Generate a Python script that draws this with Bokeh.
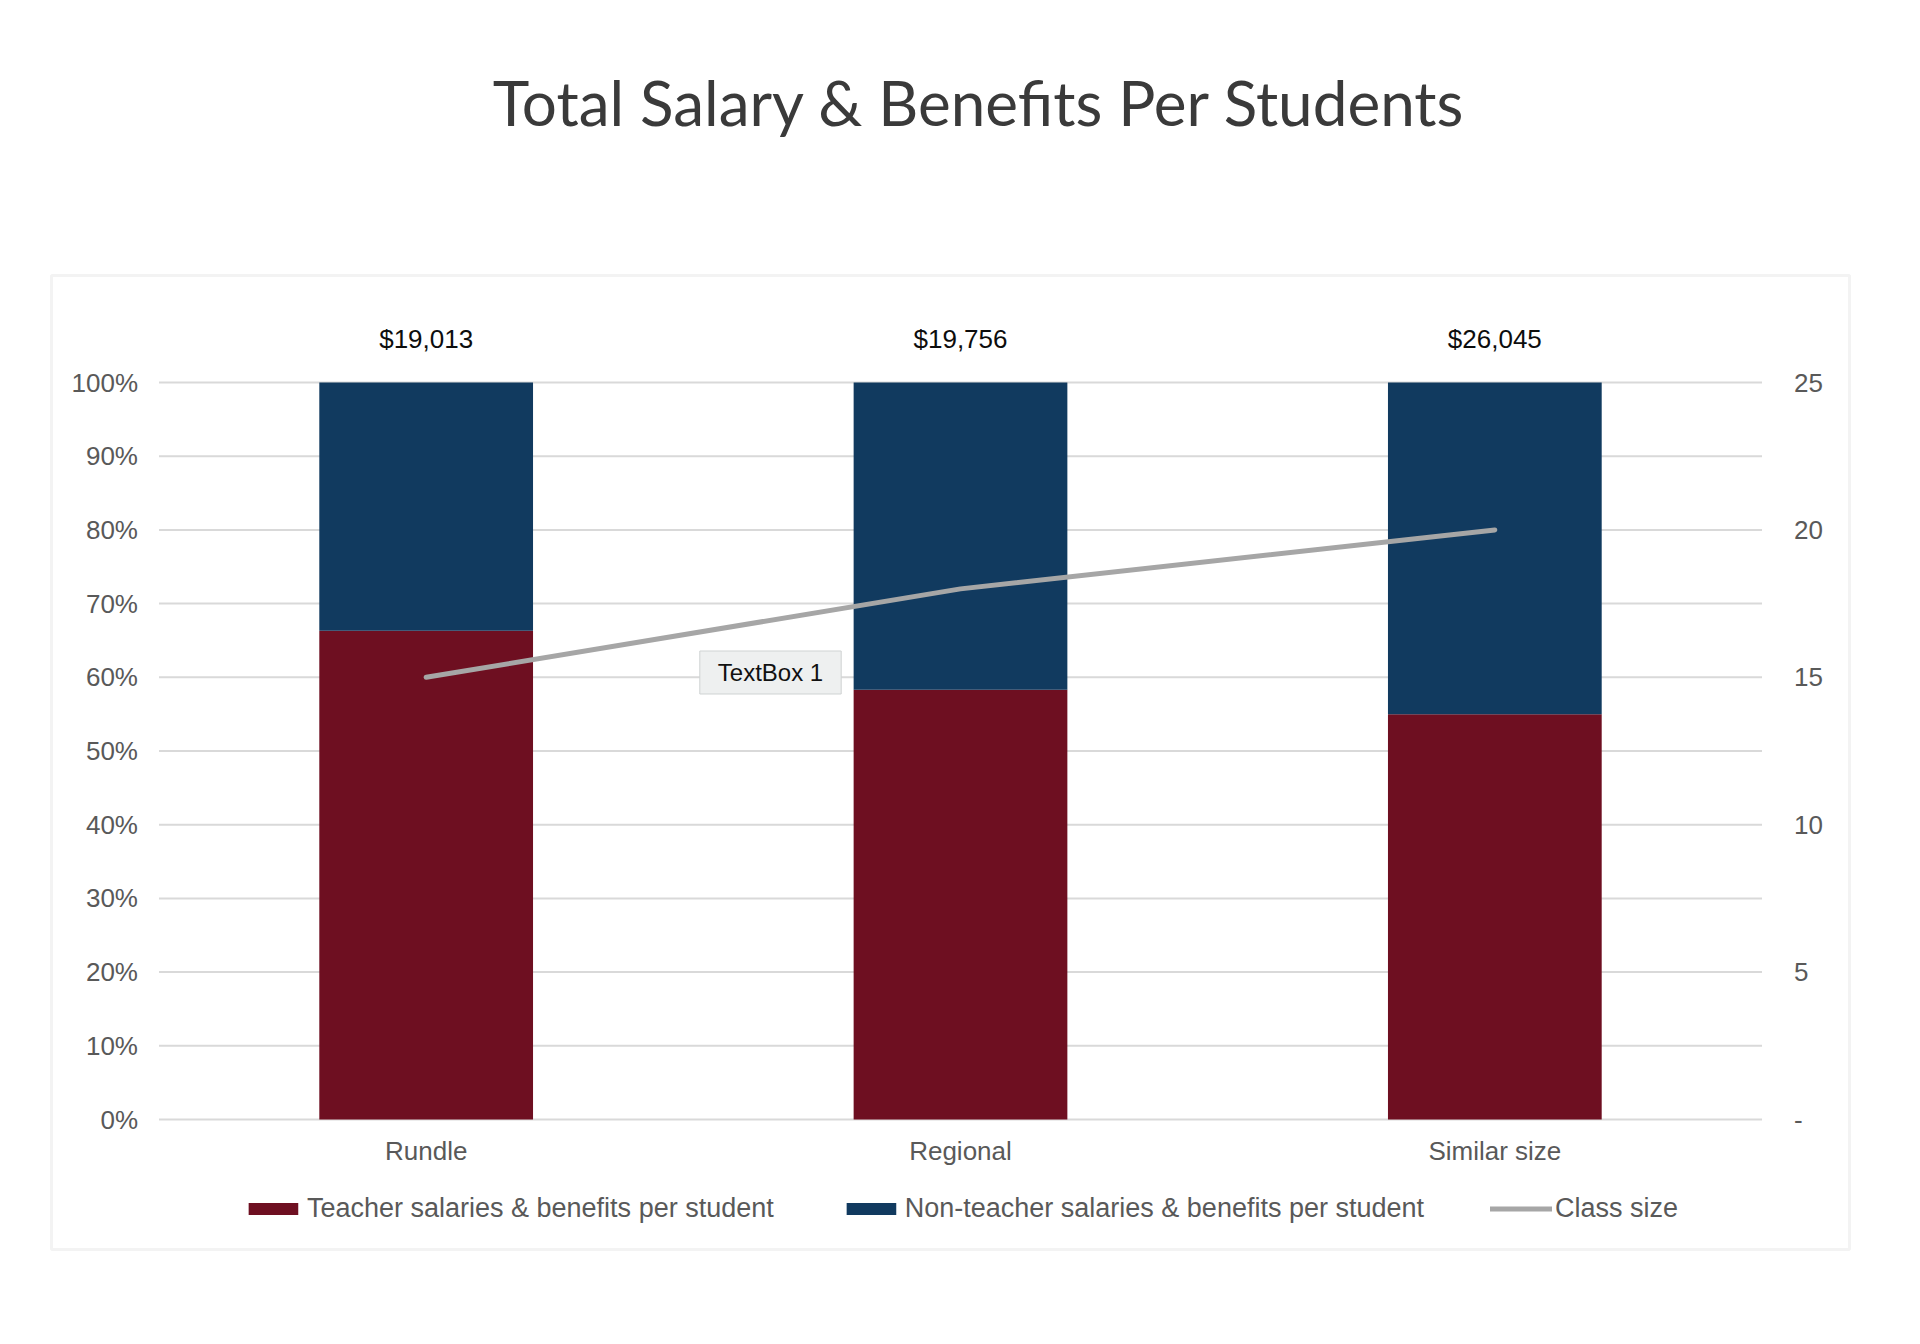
from bokeh.plotting import figure
from bokeh.models import (ColumnDataSource, FactorRange, Range1d, LinearAxis, CategoricalAxis,
                          FixedTicker, NumeralTickFormatter, Label, BoxAnnotation, Legend)
from bokeh.core.properties import value
from bokeh.embed import file_html
from bokeh.resources import INLINE

# ---- data ----
categories = ["Rundle", "Regional", "Similar size"]
teacher_share = [0.663, 0.583, 0.550]
nonteacher_share = [0.337, 0.417, 0.450]
class_size = [15, 18, 20]
totals = ["$19,013", "$19,756", "$26,045"]
pct_ticks = [0.0, 0.1, 0.2, 0.3, 0.4, 0.5, 0.6, 0.7, 0.8, 0.9, 1.0]
size_ticks = [0, 5, 10, 15, 20, 25]
size_max = 25
series_names = ["Teacher salaries & benefits per student",
                "Non-teacher salaries & benefits per student",
                "Class size"]

RED = "#6e0f21"
BLUE = "#113a5f"
GRAY = "#a6a6a6"
FONT = "Liberation Sans"
TXT = "#595959"

# ---- layout (pixels of the 1920x1344 page) ----
W, H = 1920, 1344
PLOT_L, PLOT_R = 159, 1762
Y0_PX, Y100_PX = 1119, 382
PPX = (PLOT_R - PLOT_L) / 3.0
PAD = (W / PPX - 3.0) / 2.0
PPY = float(Y0_PX - Y100_PX)


def dx(px):
    return -PAD + px / PPX


def dy(px):
    return (Y0_PX - px) / PPY


p = figure(width=W, height=H,
           x_range=FactorRange(*categories, range_padding=PAD,
                               range_padding_units="absolute"),
           y_range=Range1d(dy(H), dy(0)), output_backend="svg", toolbar_location=None,
           x_axis_location=None, y_axis_location=None, min_border=0,
           outline_line_color=None, background_fill_color="white",
           border_fill_color="white")
p.extra_y_ranges = {"class": Range1d(size_max * dy(H), size_max * dy(0))}
p.xgrid.grid_line_color = None
p.ygrid.grid_line_color = None

src = ColumnDataSource(dict(cat=categories, teacher=teacher_share,
                            nonteacher=nonteacher_share, size=class_size,
                            total=[a + b for a, b in zip(teacher_share, nonteacher_share)],
                            label=totals))

# horizontal gridlines across the plot area only
p.segment(x0=0, x1=3, y0=pct_ticks, y1=pct_ticks, line_color="#d9d9d9", line_width=2)

bars = p.vbar_stack(["teacher", "nonteacher"], x="cat", width=0.4, source=src,
                    color=[RED, BLUE], line_color=None)
ln = p.line(x="cat", y="size", source=src, y_range_name="class", line_color=GRAY,
            line_width=5, line_cap="round")

# total labels above bars
p.text(x="cat", y="total", text="label", source=src, y_offset=-44,
       text_align="center", text_baseline="middle", text_font=value(FONT),
       text_font_size="26px", text_color="#0d0d0d")

# axes (fixed inside the canvas)
ax_l = LinearAxis(ticker=FixedTicker(ticks=pct_ticks),
                  formatter=NumeralTickFormatter(format="0%"), fixed_location=0.0)
ax_r = LinearAxis(y_range_name="class", ticker=FixedTicker(ticks=size_ticks),
                  major_label_overrides={0: "-"}, fixed_location=3.0)
ax_b = CategoricalAxis(fixed_location=0.0)
for ax in (ax_l, ax_r, ax_b):
    ax.axis_line_color = None
    ax.major_tick_line_color = None
    ax.minor_tick_line_color = None
    ax.major_tick_out = 0
    ax.major_tick_in = 0
    ax.major_label_text_font = FONT
    ax.major_label_text_font_size = "26px"
    ax.major_label_text_color = TXT
ax_l.major_label_standoff = 21
ax_r.major_label_standoff = 32
ax_b.major_label_standoff = 16
p.add_layout(ax_l, "left")
p.add_layout(ax_r, "right")
p.add_layout(ax_b, "below")

legend = Legend(items=[(series_names[0], [bars[0]]), (series_names[1], [bars[1]]),
                       (series_names[2], [ln])],
                orientation="horizontal", location="bottom_center",
                label_text_font=FONT, label_text_font_size="27px",
                label_text_color=TXT, glyph_width=62, glyph_height=15,
                label_standoff=3, spacing=66, border_line_color=None,
                background_fill_alpha=0, margin=120, padding=10)
p.add_layout(legend)

# chart box border
p.add_layout(BoxAnnotation(left=dx(51), right=dx(1849), top=dy(275), bottom=dy(1249),
                           fill_alpha=0, line_color="#d8d8d8", line_width=3))

# title
p.add_layout(Label(x=dx(979), y=dy(101), text="Total Salary & Benefits Per Students",
                   text_align="center", text_baseline="alphabetic",
                   text_font="Lato", text_font_size="62px", text_color="#3a3a3a"))

# text box
p.add_layout(Label(x=dx(770), y=dy(672), text="TextBox 1", text_align="center",
                   text_baseline="middle", text_font=FONT, text_font_size="24px",
                   text_color="#111111", background_fill_color="#eef0f0",
                   border_line_color="#cfd3d3",
                   padding=dict(left=18, right=18, top=8, bottom=8)))

open("out.html", "w").write(file_html(p, INLINE))
